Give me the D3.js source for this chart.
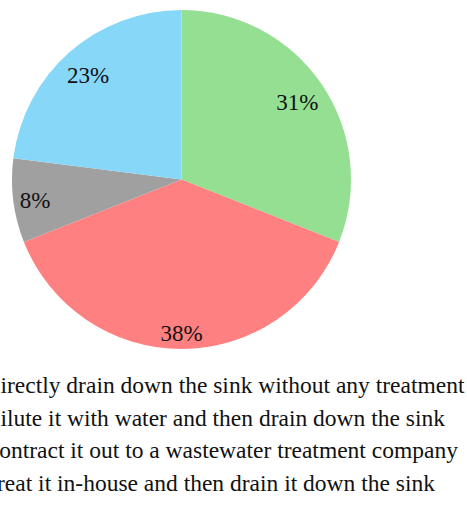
<!DOCTYPE html>
<html>
<head>
<meta charset="utf-8">
<script src="https://cdn.jsdelivr.net/npm/d3@7"></script>
<style>
  body { margin: 0; background: #fff; }
  svg { display: block; font-family: "Liberation Serif", "Times New Roman", serif; }
</style>
</head>
<body>
<svg class="pie"></svg>
<script>
var svgWidth = 467, svgHeight = 512;
var categories = [
  'Directly drain down the sink without any treatment',
  'Dilute it with water and then drain down the sink',
  'Contract it out to a wastewater treatment company',
  'Treat it in-house and then drain it down the sink'
];
var shares = [31, 38, 8, 23];
var colors = ['#95df93', '#ff8080', '#a0a0a0', '#87d7f9'];

var data = categories.map(function(c, i) { return { name: c, value: shares[i] }; });

var radius = 169.5;
var cx = 181.5, cy = 179.5;

var svg = d3.select('svg.pie').attr('width', svgWidth).attr('height', svgHeight);
var g = svg.append('g')
    .attr('transform', 'translate(' + cx + ',' + cy + ')');

var pie = d3.pie()
    .sort(null)
    .value(function(d) { return d.value; });
var slices = pie(data);

var arc = d3.arc()
    .innerRadius(0)
    .outerRadius(radius);

var color = d3.scaleOrdinal()
    .domain(categories)
    .range(colors);

g.selectAll('path.slice')
    .data(slices)
    .enter()
    .append('path')
    .attr('class', 'slice')
    .attr('d', arc)
    .attr('fill', function(d) { return color(d.data.name); });

// labels placed "inside end": box pushed out along the bisector until it nears the rim
var labels = g.selectAll('text.label')
    .data(slices)
    .enter()
    .append('text')
    .attr('class', 'label')
    .attr('text-anchor', 'middle')
    .attr('dy', '0.42em')
    .attr('font-size', 23)
    .attr('fill', '#111')
    .text(function(d) { return d.data.value + '%'; });

labels.each(function(d) {
  var box = this.getBBox();
  var a = (d.startAngle + d.endAngle) / 2;
  var ux = Math.sin(a), uy = -Math.cos(a);
  var ext = Math.abs(ux) * box.width / 2 + Math.abs(uy) * box.height / 2;
  var dist = radius - 5 - ext;
  d3.select(this).attr('x', ux * dist).attr('y', uy * dist);
});

// legend keys sit off the left edge, only the text shows
var legend = svg.append('g')
    .attr('class', 'legend')
    .attr('transform', 'translate(-16.5, 393)');

legend.selectAll('text')
    .data(categories)
    .enter()
    .append('text')
    .attr('font-size', 23.5)
    .attr('fill', '#111')
    .attr('y', function(d, i) { return i * 32.5; })
    .text(function(d) { return d; });
</script>
</body>
</html>
